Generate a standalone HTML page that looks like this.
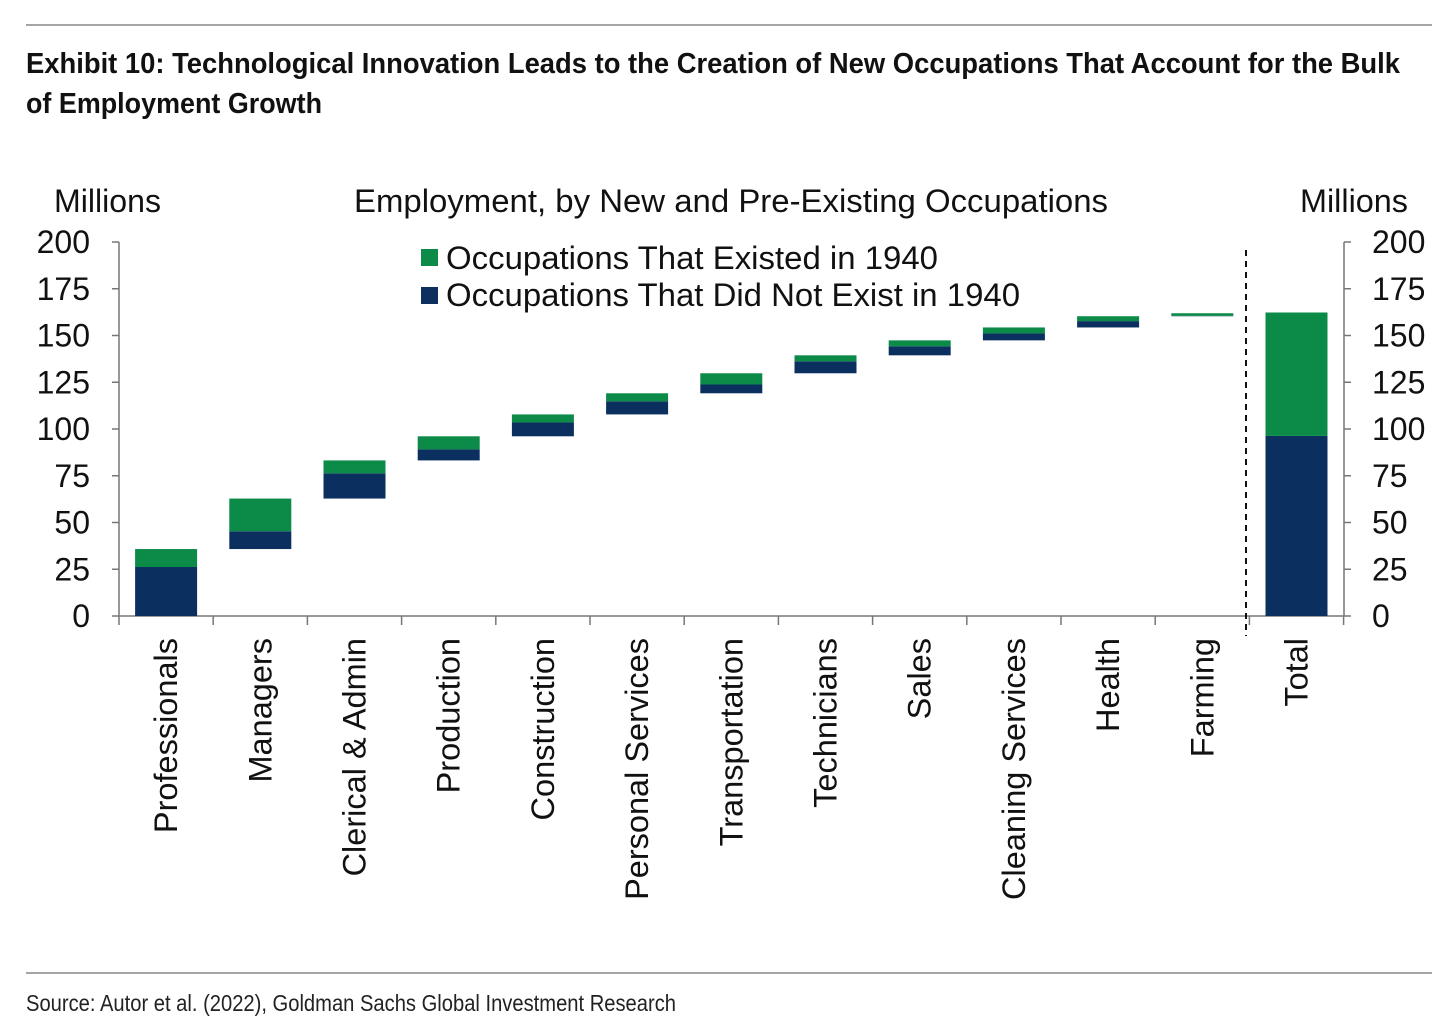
<!DOCTYPE html>
<html><head><meta charset="utf-8"><style>
body{margin:0;background:#fff;}
svg{display:block;font-family:"Liberation Sans",Arial,sans-serif;}
</style></head><body>
<svg id="chart" width="1456" height="1036">
<line x1="26" y1="25" x2="1432" y2="25" stroke="#888" stroke-width="1.5"/>
<text x="26" y="73" font-size="29" font-weight="bold" fill="#111" textLength="1374" lengthAdjust="spacingAndGlyphs">Exhibit 10: Technological Innovation Leads to the Creation of New Occupations That Account for the Bulk</text>
<text x="26" y="113" font-size="29" font-weight="bold" fill="#111" textLength="296" lengthAdjust="spacingAndGlyphs">of Employment Growth</text>
<text x="54" y="212" font-size="32" fill="#111" textLength="107" lengthAdjust="spacingAndGlyphs">Millions</text>
<text x="1300" y="212" font-size="32" fill="#111" textLength="108" lengthAdjust="spacingAndGlyphs">Millions</text>
<text x="354" y="212" font-size="32" fill="#111" textLength="754" lengthAdjust="spacingAndGlyphs">Employment, by New and Pre-Existing Occupations</text>
<rect x="421" y="249" width="17" height="17" fill="#0b8a48"/>
<text x="446" y="269" font-size="32" fill="#111" textLength="492" lengthAdjust="spacingAndGlyphs">Occupations That Existed in 1940</text>
<rect x="421" y="287" width="17" height="17" fill="#0b3060"/>
<text x="446" y="306" font-size="32" fill="#111" textLength="574" lengthAdjust="spacingAndGlyphs">Occupations That Did Not Exist in 1940</text>
<g id="plot"></g>
<line x1="26" y1="973" x2="1432" y2="973" stroke="#888" stroke-width="1.5"/>
<text x="26" y="1011" font-size="23" fill="#222" textLength="650" lengthAdjust="spacingAndGlyphs">Source: Autor et al. (2022), Goldman Sachs Global Investment Research</text>
</svg>
<script>
const categories=["Professionals","Managers","Clerical & Admin","Production","Construction","Personal Services","Transportation","Technicians","Sales","Cleaning Services","Health","Farming"];
const newOcc=[26.2,9.5,13.5,5.9,7.4,7.0,4.7,6.4,4.8,3.7,3.4,0.2];
const existingOcc=[9.6,17.5,6.9,7.0,4.3,4.3,6.0,3.2,3.2,3.2,2.6,1.4];
const totalLabel="Total";
const totalNew=[96.3];
const totalExisting=[66.0];
const yTicks=[0,25,50,75,100,125,150,175,200];

const NS="http://www.w3.org/2000/svg";
const g=document.getElementById('plot');
const x0=119,x1=1344,step=94.2,bw=62,yb=616,yt=242;
const y=v=>yb-(v/200)*(yb-yt);
const cx=i=>x0+step*(i+0.5);
function mk(tag,attrs,parent){const e=document.createElementNS(NS,tag);for(const k in attrs)e.setAttribute(k,attrs[k]);(parent||g).appendChild(e);return e;}

let e=mk('line',{x1:x0,y1:yt,x2:x0,y2:yb,stroke:'#777','stroke-width':1.5});


e=mk('line',{x1:x1,y1:yt,x2:x1,y2:yb,stroke:'#777','stroke-width':1.5});


e=mk('line',{x1:x0,y1:yb,x2:x1,y2:yb,stroke:'#777','stroke-width':1.5});


yTicks.forEach(t=>{
  mk('line',{x1:x0-7,y1:y(t),x2:x0,y2:y(t),stroke:'#777','stroke-width':1.5});
  mk('line',{x1:x1,y1:y(t),x2:x1+7,y2:y(t),stroke:'#777','stroke-width':1.5});
  let a=mk('text',{x:90,y:y(t)+11,'font-size':32,'text-anchor':'end',fill:'#111'});a.textContent=t;
  
  
  let b=mk('text',{x:1372,y:y(t)+11,'font-size':32,fill:'#111'});b.textContent=t;
  
  
});
for(let k=0;k<=13;k++){mk('line',{x1:x0+step*k,y1:yb,x2:x0+step*k,y2:yb+9,stroke:'#777','stroke-width':1.5});}
e=mk('line',{x1:1246,y1:250,x2:1246,y2:636,stroke:'#111','stroke-width':2,'stroke-dasharray':'6,5'});



function label(i,txt){
  const t=mk('text',{transform:`translate(${cx(i)+11},638) rotate(-90)`,'font-size':32.5,'text-anchor':'end',fill:'#111'});
  t.textContent=txt;
  
  
}
let base=0;
categories.forEach((c,i)=>{
  const r1=mk('rect',{x:cx(i)-bw/2,y:y(base+newOcc[i]),width:bw,height:y(base)-y(base+newOcc[i]),fill:'#0b3060'});
  
  
  base+=newOcc[i];
  const r2=mk('rect',{x:cx(i)-bw/2,y:y(base+existingOcc[i]),width:bw,height:y(base)-y(base+existingOcc[i]),fill:'#0b8a48'});
  
  
  base+=existingOcc[i];
  label(i,c);
});
const ti=12;
let r=mk('rect',{x:cx(ti)-bw/2,y:y(totalNew[0]),width:bw,height:yb-y(totalNew[0]),fill:'#0b3060'});


r=mk('rect',{x:cx(ti)-bw/2,y:y(totalNew[0]+totalExisting[0]),width:bw,height:y(totalNew[0])-y(totalNew[0]+totalExisting[0]),fill:'#0b8a48'});


label(ti,totalLabel);
</script>
</body></html>
